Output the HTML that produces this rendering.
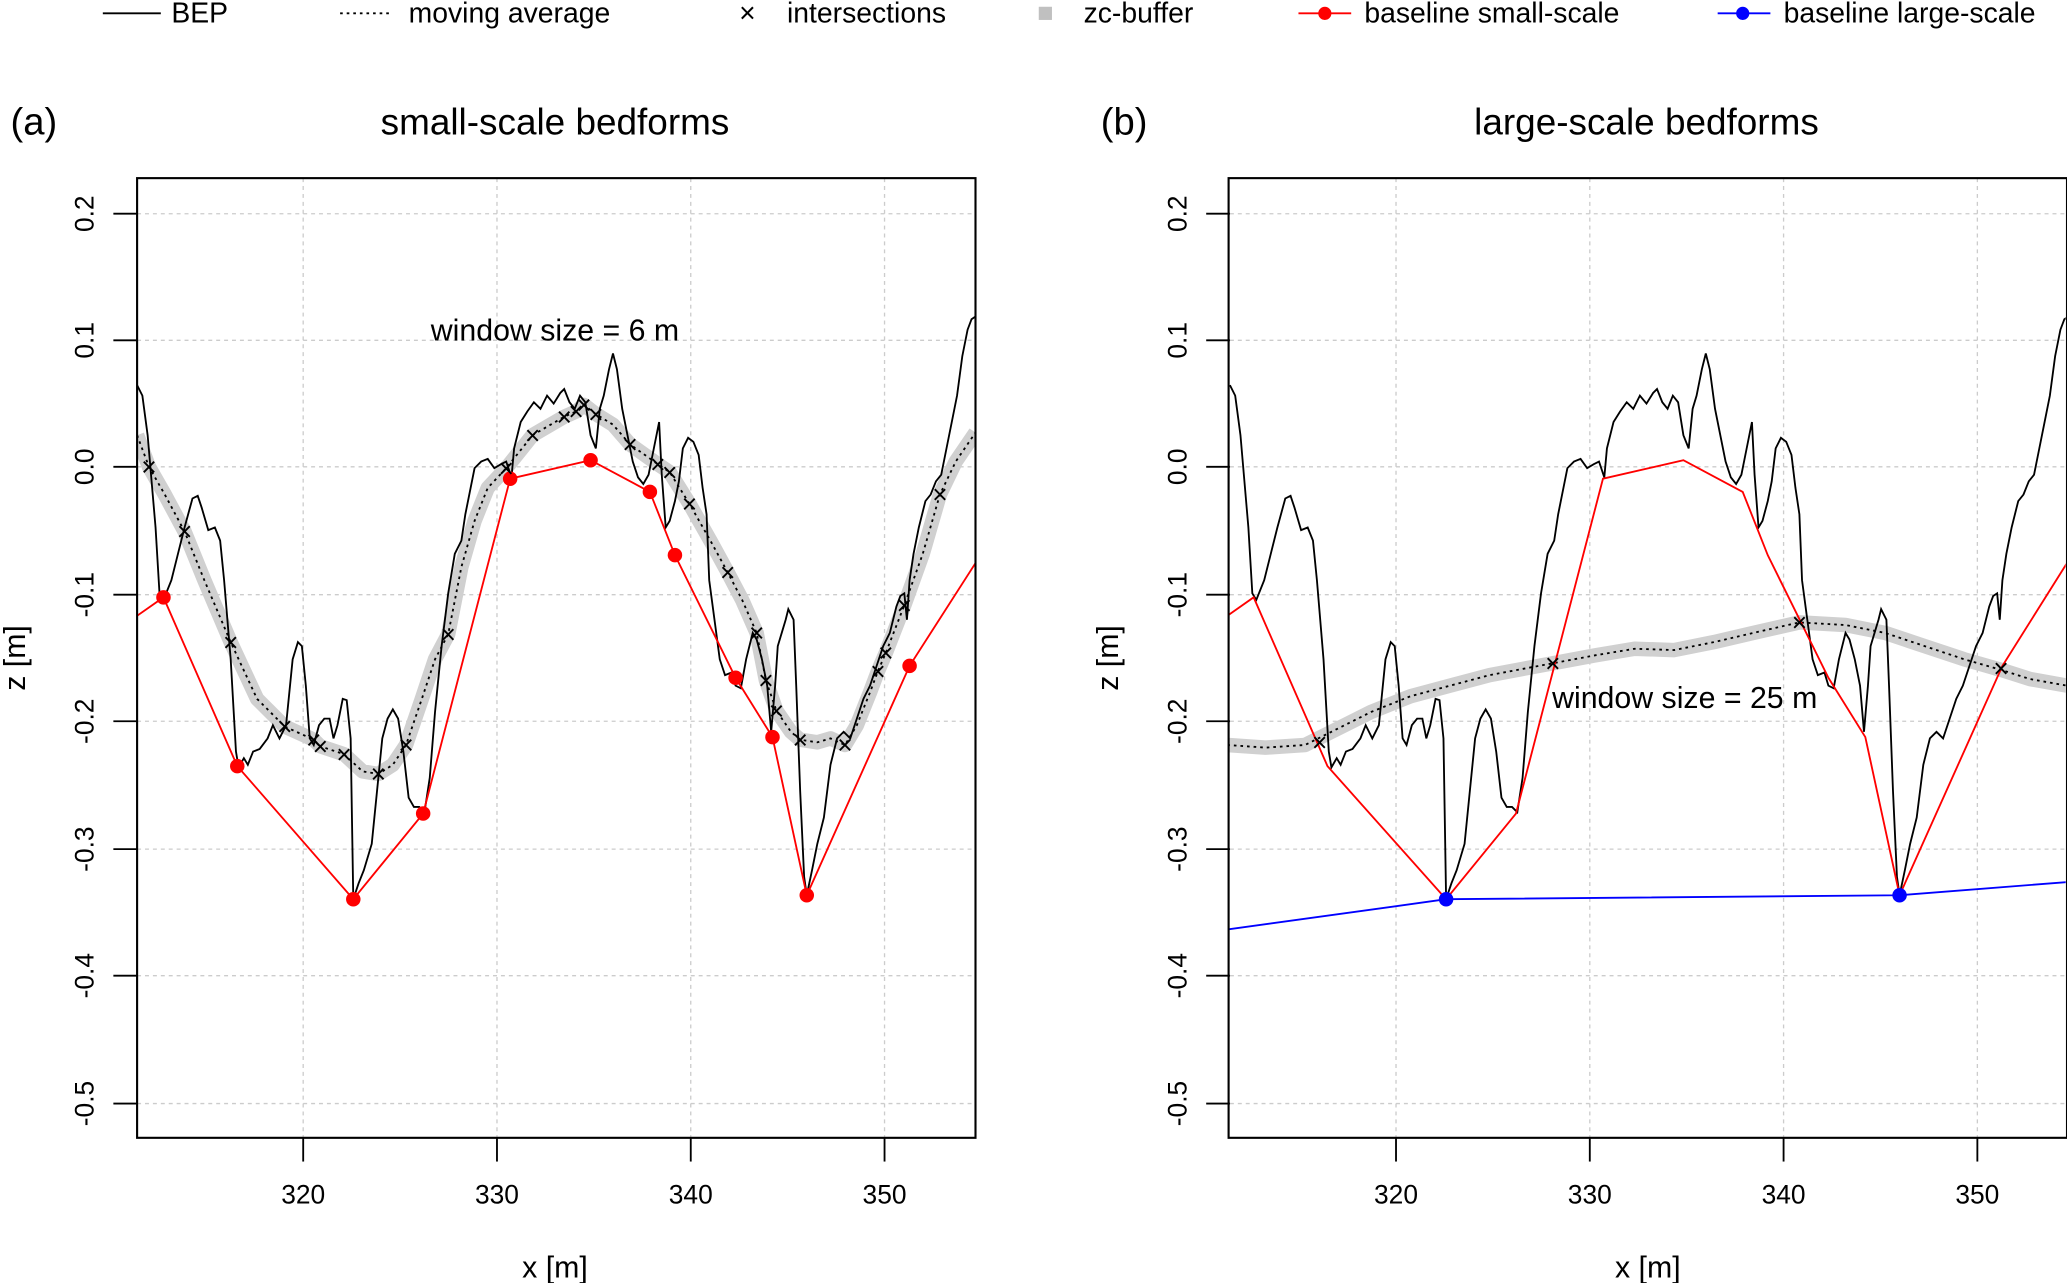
<!DOCTYPE html>
<html><head><meta charset="utf-8"><style>
html,body{margin:0;padding:0;background:#fff;}
svg{display:block;font-family:"Liberation Sans",sans-serif;}
</style></head><body>
<svg width="2067" height="1283" viewBox="0 0 1568 973" xmlns="http://www.w3.org/2000/svg">
<defs>
<clipPath id="ca"><rect x="104" y="135" width="636" height="728"/></clipPath>
<clipPath id="cb"><rect x="932" y="135" width="635" height="728"/></clipPath>
<path id="bep" fill="none" stroke="#000" stroke-width="1.4" d="M104,292 L108,300 112,330 118,400 121,450 124,455 130,440 135,420 140,400 146,378 150,376 153,385 158,402 163,400 167,410 170,440 175,500 179,570 181,582 185,575 188,580 192,570 197,568 203,560 207,550 212,560 217,550 222,500 226,487 229,490 232,520 235,560 238,565 242,550 246,545 250,545 253,560 256,550 260,530 263,531 266,560 268,682 272,670 276,660 282,640 286,600 290,560 294,545 298,538 302,545 306,570 310,605 314,612 318,612 322,616 326,590 330,540 335,490 340,450 345,420 350,410 353,390 357,370 360,355 365,350 370,348 375,355 380,352 384,350 388,362 390,340 395,320 400,312 405,305 410,310 415,300 420,306 425,298 428,295 432,305 436,310 440,300 444,305 448,330 452,340 455,310 458,300 462,280 465,268 468,280 472,310 476,330 480,350 484,362 488,367 492,360 496,340 500,320 502,360 505,400 508,395 512,380 515,365 518,340 522,332 526,335 530,345 533,370 536,390 538,440 542,470 546,500 550,512 555,510 558,520 562,522 566,500 571,480 574,485 578,500 582,520 585,555 588,520 590,490 593,480 596,470 598,462 602,470 604,520 607,600 610,665 612,679 616,660 620,640 625,620 630,580 635,560 640,555 645,560 650,545 655,530 660,520 665,505 670,490 675,480 680,460 683,452 686,450 688,470 690,440 693,420 697,400 702,380 706,375 710,365 714,360 718,340 722,320 726,300 730,270 734,250 737,242 740,240"/>
</defs>

<!-- legend -->
<g font-size="21.5" fill="#000">
<line x1="78" y1="10" x2="122" y2="10" stroke="#000" stroke-width="1.4"/><text x="130" y="17">BEP</text>
<line x1="258" y1="10" x2="298" y2="10" stroke="#000" stroke-width="1.4" stroke-dasharray="2,3"/><text x="310" y="17">moving average</text>
<text x="567" y="17" text-anchor="middle">×</text><text x="597" y="17">intersections</text>
<rect x="788" y="5" width="10" height="10" fill="#c0c0c0"/><text x="822" y="17">zc-buffer</text>
<line x1="985" y1="10" x2="1025" y2="10" stroke="#f00" stroke-width="1.4"/><circle cx="1005" cy="10" r="5" fill="#f00"/><text x="1035" y="17">baseline small-scale</text>
<line x1="1303" y1="10" x2="1343" y2="10" stroke="#00f" stroke-width="1.4"/><circle cx="1322" cy="10" r="5" fill="#00f"/><text x="1353" y="17">baseline large-scale</text>
</g>

<!-- titles -->
<g font-size="29" fill="#000">
<text x="8" y="102">(a)</text>
<text x="421" y="102" text-anchor="middle" font-size="28">small-scale bedforms</text>
<text x="835" y="102">(b)</text>
<text x="1249" y="102" text-anchor="middle" font-size="28">large-scale bedforms</text>
</g>

<!-- panel A -->
<g id="frameA">
<g stroke="#ccc" stroke-width="1" stroke-dasharray="3,3">
<line x1="230" y1="135" x2="230" y2="863"/><line x1="377" y1="135" x2="377" y2="863"/><line x1="524" y1="135" x2="524" y2="863"/><line x1="671" y1="135" x2="671" y2="863"/>
<line x1="104" y1="162" x2="740" y2="162"/><line x1="104" y1="258" x2="740" y2="258"/><line x1="104" y1="354" x2="740" y2="354"/><line x1="104" y1="451" x2="740" y2="451"/><line x1="104" y1="547" x2="740" y2="547"/><line x1="104" y1="644" x2="740" y2="644"/><line x1="104" y1="740" x2="740" y2="740"/><line x1="104" y1="837" x2="740" y2="837"/>
</g>
<g stroke="#000" stroke-width="1.4">
<line x1="230" y1="863" x2="230" y2="881"/><line x1="377" y1="863" x2="377" y2="881"/><line x1="524" y1="863" x2="524" y2="881"/><line x1="671" y1="863" x2="671" y2="881"/>
<line x1="86" y1="162" x2="104" y2="162"/><line x1="86" y1="258" x2="104" y2="258"/><line x1="86" y1="354" x2="104" y2="354"/><line x1="86" y1="451" x2="104" y2="451"/><line x1="86" y1="547" x2="104" y2="547"/><line x1="86" y1="644" x2="104" y2="644"/><line x1="86" y1="740" x2="104" y2="740"/><line x1="86" y1="837" x2="104" y2="837"/>
</g>
<g font-size="20" text-anchor="middle">
<text x="230" y="913">320</text><text x="377" y="913">330</text><text x="524" y="913">340</text><text x="671" y="913">350</text>
<text transform="translate(71,162) rotate(-90)">0.2</text><text transform="translate(71,258) rotate(-90)">0.1</text><text transform="translate(71,354) rotate(-90)">0.0</text><text transform="translate(71,451) rotate(-90)">-0.1</text><text transform="translate(71,547) rotate(-90)">-0.2</text><text transform="translate(71,644) rotate(-90)">-0.3</text><text transform="translate(71,740) rotate(-90)">-0.4</text><text transform="translate(71,837) rotate(-90)">-0.5</text>
<text x="421" y="969" font-size="23">x [m]</text>
<text transform="translate(19,499) rotate(-90)" font-size="23">z [m]</text>
</g>
</g>
<g clip-path="url(#ca)">
<polyline fill="none" stroke="#d0d0d0" stroke-width="11" stroke-linejoin="round" points="104,330 113,354 125,375 140,403 155,440 175,487 195,530 216,551 238,561 243,566 261,572 275,585 287,587 298,580 308,565 320,530 330,500 340,481 350,430 360,395 370,370 384,355 404,330 428,316 437,312 443,307 452,314 465,322 478,337 499,352 508,358 523,382 540,412 552,434 563,455 574,480 581,516 589,539 600,555 607,561 620,563 630,560 641,565 650,550 660,525 666,509 672,495 686,459 700,420 713,375 725,350 740,328"/>
<polyline fill="none" stroke="#000" stroke-width="1.4" stroke-dasharray="2,3" points="104,330 113,354 125,375 140,403 155,440 175,487 195,530 216,551 238,561 243,566 261,572 275,585 287,587 298,580 308,565 320,530 330,500 340,481 350,430 360,395 370,370 384,355 404,330 428,316 437,312 443,307 452,314 465,322 478,337 499,352 508,358 523,382 540,412 552,434 563,455 574,480 581,516 589,539 600,555 607,561 620,563 630,560 641,565 650,550 660,525 666,509 672,495 686,459 700,420 713,375 725,350 740,328"/>
<use href="#bep"/>
<polyline fill="none" stroke="#f00" stroke-width="1.4" points="104,467 124,453 180,581 268,682 321,617 387,363 448,349 493,373 512,421 558,514 586,559 612,679 690,505 740,427"/>
<g fill="#f00"><circle cx="124" cy="453" r="5.5"/><circle cx="180" cy="581" r="5.5"/><circle cx="268" cy="682" r="5.5"/><circle cx="321" cy="617" r="5.5"/><circle cx="387" cy="363" r="5.5"/><circle cx="448" cy="349" r="5.5"/><circle cx="493" cy="373" r="5.5"/><circle cx="512" cy="421" r="5.5"/><circle cx="558" cy="514" r="5.5"/><circle cx="586" cy="559" r="5.5"/><circle cx="612" cy="679" r="5.5"/><circle cx="690" cy="505" r="5.5"/></g>
<g font-size="20" text-anchor="middle">
<text x="113" y="361">×</text><text x="140" y="410">×</text><text x="175" y="494">×</text><text x="216" y="558">×</text><text x="238" y="568">×</text><text x="243" y="573">×</text><text x="261" y="579">×</text><text x="287" y="594">×</text><text x="308" y="572">×</text><text x="340" y="488">×</text><text x="384" y="362">×</text><text x="404" y="337">×</text><text x="428" y="323">×</text><text x="437" y="319">×</text><text x="443" y="314">×</text><text x="452" y="321">×</text><text x="478" y="344">×</text><text x="499" y="359">×</text><text x="508" y="365">×</text><text x="523" y="389">×</text><text x="552" y="441">×</text><text x="574" y="487">×</text><text x="581" y="523">×</text><text x="589" y="546">×</text><text x="607" y="568">×</text><text x="641" y="572">×</text><text x="666" y="516">×</text><text x="672" y="502">×</text><text x="686" y="466">×</text><text x="713" y="382">×</text>
</g>
<text x="421" y="258" font-size="23" text-anchor="middle">window size = 6 m</text>
</g>
<rect x="104" y="135" width="636" height="728" fill="none" stroke="#000" stroke-width="1.6"/>

<!-- panel B -->
<use href="#frameA" transform="translate(829,0)"/>
<g clip-path="url(#cb)">
<polyline fill="none" stroke="#d0d0d0" stroke-width="11" stroke-linejoin="round" points="931,565 960,567 990,565 1010,555 1040,540 1070,528 1100,520 1130,512 1178,503 1210,497 1240,492 1270,493 1300,487 1330,480 1365,472 1400,474 1430,480 1460,490 1490,500 1518,508 1540,515 1568,520"/>
<polyline fill="none" stroke="#000" stroke-width="1.4" stroke-dasharray="2,3" points="931,565 960,567 990,565 1010,555 1040,540 1070,528 1100,520 1130,512 1178,503 1210,497 1240,492 1270,493 1300,487 1330,480 1365,472 1400,474 1430,480 1460,490 1490,500 1518,508 1540,515 1568,520"/>
<use href="#bep" transform="translate(829,0)"/>
<polyline fill="none" stroke="#f00" stroke-width="1.4" points="931,467 951,453 1007,581 1097,682 1150,617 1216,363 1277,349 1322,373 1341,421 1387,514 1415,559 1441,679 1519,505 1568,427"/>
<polyline fill="none" stroke="#00f" stroke-width="1.4" points="931,705 1097,682 1441,679 1568,669"/>
<circle cx="1097" cy="682" r="5.5" fill="#00f"/><circle cx="1441" cy="679" r="5.5" fill="#00f"/>
<g font-size="20" text-anchor="middle"><text x="1001" y="570">×</text><text x="1178" y="510">×</text><text x="1365" y="479">×</text><text x="1518" y="514">×</text></g>
<text x="1278" y="537" font-size="23" text-anchor="middle">window size = 25 m</text>
</g>
<rect x="932" y="135" width="636" height="728" fill="none" stroke="#000" stroke-width="1.6"/>
</svg>
</body></html>
